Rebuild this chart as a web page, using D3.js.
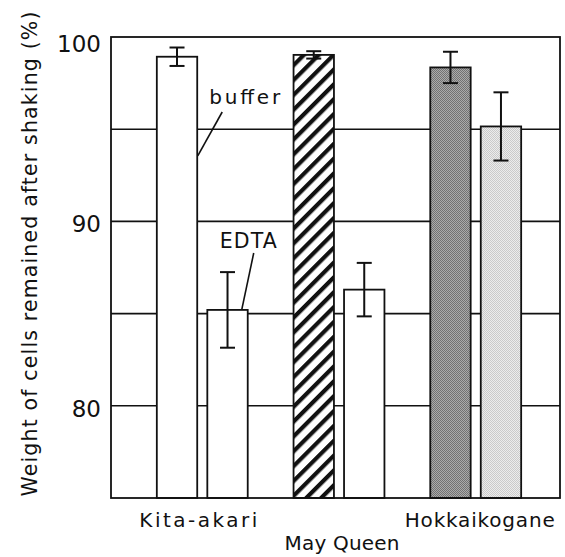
<!DOCTYPE html>
<html>
<head>
<meta charset="utf-8">
<script src="https://cdn.jsdelivr.net/npm/d3@7"></script>
<style>
  body { margin: 0; background: #fff; }
  text { font-family: "DejaVu Sans", sans-serif; fill: #111; }
</style>
</head>
<body>
<div id="chart"></div>
<script>
// data
let groups = ["Kita-akari", "May Queen", "Hokkaikogane"];
let conditions = ["buffer", "EDTA"];
let bufferMeans = [98.93, 99.03, 98.35];
let bufferErrors = [0.5, 0.2, 0.85];
let edtaMeans = [85.2, 86.3, 95.15];
let edtaErrors = [2.05, 1.45, 1.85];
let yTicks = [80, 90, 100];
let gridValues = [80, 85, 90, 95];

// chart size
let svgWidth = 565;
let svgHeight = 557;

let margin = {
    top: 37,
    right: 5,
    bottom: 59,
    left: 111
}

let width = svgWidth - (margin.left + margin.right);
let height = svgHeight - (margin.top + margin.bottom);

let svg = d3.select("#chart")
.append("svg")
.attr("width", svgWidth)
.attr("height", svgHeight);

let defs = svg.append("defs");

// diagonal hatching for the May Queen buffer bar
let hatch = defs.append("pattern")
.attr("id", "hatch")
.attr("patternUnits", "userSpaceOnUse")
.attr("width", 10.5)
.attr("height", 10.5)
.attr("patternTransform", "rotate(45)");
hatch.append("rect").attr("width", 10.5).attr("height", 10.5).attr("fill", "#fff");
hatch.append("rect").attr("x", 0).attr("width", 4.2).attr("height", 10.5).attr("fill", "#111");

// fine dotted screens for the Hokkaikogane bars
function screen(id, a, b) {
    let p = defs.append("pattern")
    .attr("id", id)
    .attr("patternUnits", "userSpaceOnUse")
    .attr("width", 2)
    .attr("height", 2);
    p.append("rect").attr("width", 2).attr("height", 2).attr("fill", a);
    p.append("rect").attr("width", 1).attr("height", 1).attr("fill", b);
    p.append("rect").attr("x", 1).attr("y", 1).attr("width", 1).attr("height", 1).attr("fill", b);
}
screen("darkScreen", "#ababab", "#727272");
screen("lightScreen", "#ececec", "#cacaca");

// bar fills in drawing order (group, condition)
let fills = [
    ["#fff", "#fff"],
    ["url(#hatch)", "#fff"],
    ["url(#darkScreen)", "url(#lightScreen)"]
];

let chartGroup = svg.append("g")
.attr("transform", `translate(${margin.left}, ${margin.top})`);

// scales
let x0 = d3.scaleBand()
.domain(groups)
.range([0, width])
.paddingInner(0)
.paddingOuter(0.142)
.align(0.59);

let x1 = d3.scaleBand()
.domain(conditions)
.range([0, 101])
.paddingInner(0.2)
.paddingOuter(0.1);

let yScale = d3.scaleLinear()
.domain([75, 100])
.range([height, 0]);

function barLeft(g, c) {
    return x0(g) + x0.bandwidth() / 2 - 50.5 + x1(c);
}

// grid lines
chartGroup.append("g")
.selectAll("line")
.data(gridValues)
.enter()
.append("line")
.attr("x1", 0)
.attr("x2", width)
.attr("y1", d => yScale(d))
.attr("y2", d => yScale(d))
.attr("stroke", "#111")
.attr("stroke-width", 1.6);

// build the bar table
let barData = [];
groups.forEach(function(g, i) {
    barData.push({group: g, cond: "buffer", mean: bufferMeans[i], err: bufferErrors[i], fill: fills[i][0]});
    barData.push({group: g, cond: "EDTA", mean: edtaMeans[i], err: edtaErrors[i], fill: fills[i][1]});
});

chartGroup.append("g")
.selectAll("rect")
.data(barData)
.enter()
.append("rect")
.attr("x", d => barLeft(d.group, d.cond))
.attr("y", d => yScale(d.mean))
.attr("width", x1.bandwidth())
.attr("height", d => height - yScale(d.mean))
.attr("fill", d => d.fill)
.attr("stroke", "#111")
.attr("stroke-width", 1.8);

// error bars
let errGroup = chartGroup.append("g")
.attr("stroke", "#111")
.attr("stroke-width", 2);

barData.forEach(function(d) {
    let cx = barLeft(d.group, d.cond) + x1.bandwidth() / 2;
    let top = yScale(d.mean + d.err);
    let bottom = yScale(d.mean - d.err);
    errGroup.append("line").attr("x1", cx).attr("x2", cx).attr("y1", top).attr("y2", bottom);
    errGroup.append("line").attr("x1", cx - 7.5).attr("x2", cx + 7.5).attr("y1", top).attr("y2", top);
    errGroup.append("line").attr("x1", cx - 7.5).attr("x2", cx + 7.5).attr("y1", bottom).attr("y2", bottom);
});

// plot frame
chartGroup.append("rect")
.attr("x", 0)
.attr("y", 0)
.attr("width", width)
.attr("height", height)
.attr("fill", "none")
.attr("stroke", "#111")
.attr("stroke-width", 1.8);

// y tick labels
chartGroup.append("g")
.selectAll("text")
.data(yTicks)
.enter()
.append("text")
.attr("x", -10)
.attr("y", d => yScale(d) + (d === 100 ? 7 : 2.5))
.attr("dy", "0.36em")
.attr("text-anchor", "end")
.attr("font-size", "23px")
.text(d => d);

// category labels, May Queen dropped to a second row
let catRow = [0, 1, 0];
let catNudge = [-4, 3, 4];
let catLength = [118, 115, 150];
chartGroup.append("g")
.selectAll("text")
.data(groups)
.enter()
.append("text")
.attr("x", (d, i) => x0(d) + x0.bandwidth() / 2 + catNudge[i])
.attr("y", (d, i) => height + 29 + catRow[i] * 23)
.attr("text-anchor", "middle")
.attr("font-size", "20px")
.attr("textLength", (d, i) => catLength[i])
.attr("lengthAdjust", "spacing")
.text(d => d);

// y axis title
svg.append("text")
.attr("transform", "translate(37, 254) rotate(-90)")
.attr("text-anchor", "middle")
.attr("font-size", "20.5px")
.attr("textLength", 485)
.attr("lengthAdjust", "spacing")
.text("Weight of cells remained after shaking (%)");

// callouts for the first pair of bars
let kitaBuffer = barLeft(groups[0], "buffer") + x1.bandwidth();
let kitaEdta = barLeft(groups[0], "EDTA") + x1.bandwidth();

chartGroup.append("text")
.attr("x", kitaBuffer + 12)
.attr("y", 67)
.attr("font-size", "20px")
.attr("textLength", 71)
.attr("lengthAdjust", "spacing")
.text("buffer");
chartGroup.append("line")
.attr("x1", kitaBuffer + 25)
.attr("y1", 75)
.attr("x2", kitaBuffer + 0.5)
.attr("y2", yScale(93.55))
.attr("stroke", "#111")
.attr("stroke-width", 1.6);

chartGroup.append("text")
.attr("x", kitaEdta - 28)
.attr("y", 211)
.attr("font-size", "20.5px")
.attr("textLength", 57)
.attr("lengthAdjust", "spacing")
.text("EDTA");
chartGroup.append("line")
.attr("x1", kitaEdta + 6)
.attr("y1", 216)
.attr("x2", kitaEdta - 6)
.attr("y2", yScale(edtaMeans[0]))
.attr("stroke", "#111")
.attr("stroke-width", 1.6);
</script>
</body>
</html>
